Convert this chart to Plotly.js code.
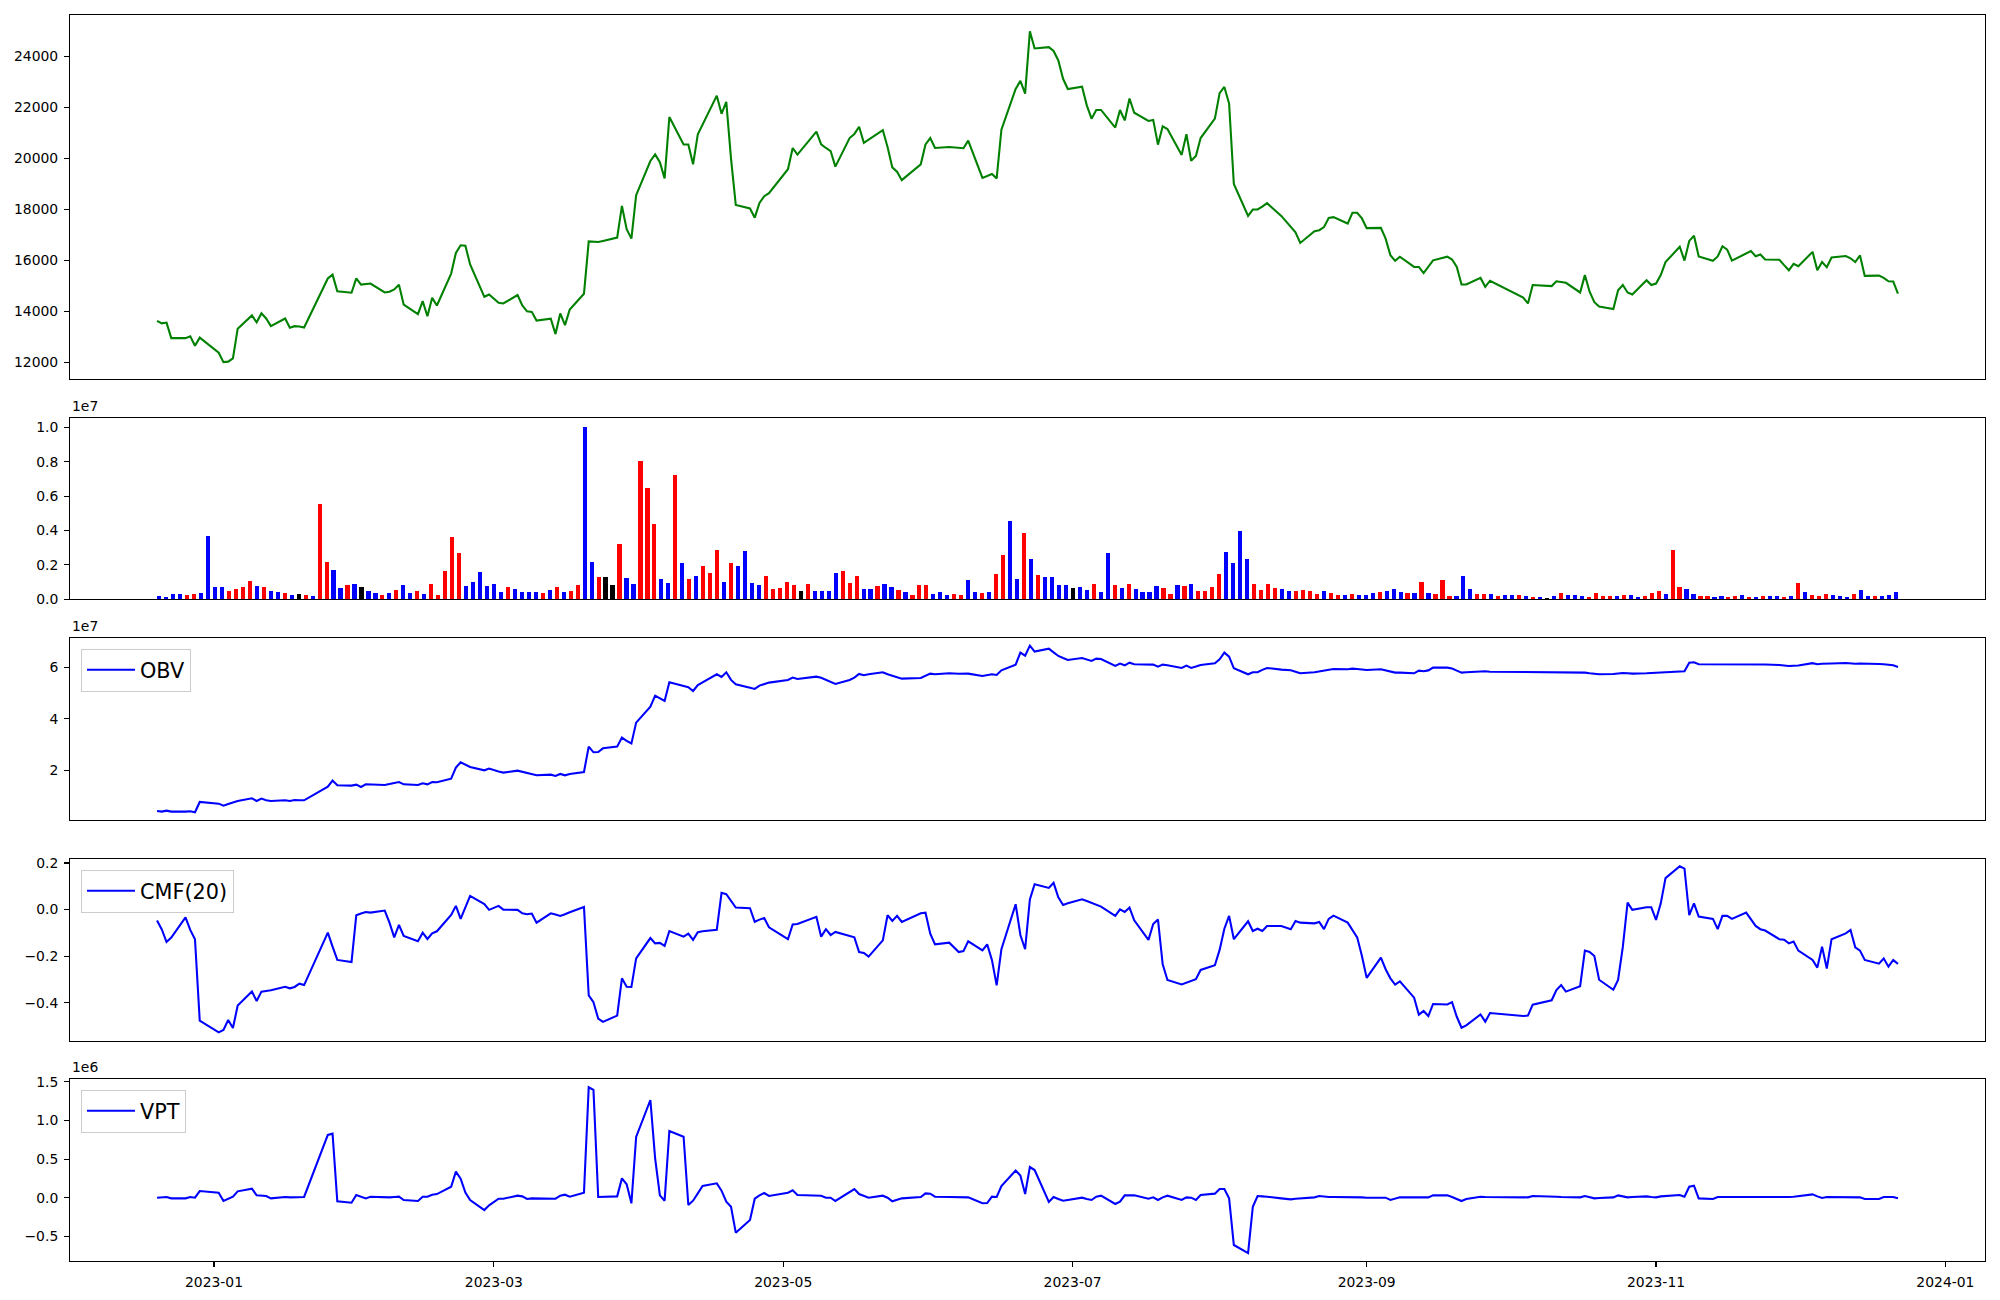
<!DOCTYPE html>
<html>
<head>
<meta charset="utf-8">
<script src="https://cdn.plot.ly/plotly-3.0.1.min.js"></script>
<style>
html,body{margin:0;padding:0;background:#ffffff;}
#chart{width:2000px;height:1300px;}
</style>
</head>
<body>
<div id="chart"></div>
<script>
// ---------------- DATA ----------------
const tradingDays = (
"2022-12-20 2022-12-21 2022-12-22 2022-12-23 2022-12-26 2022-12-27 2022-12-28 2022-12-29 " +
"2023-01-02 2023-01-03 2023-01-04 2023-01-05 2023-01-06 2023-01-09 2023-01-10 2023-01-11 2023-01-12 2023-01-13 " +
"2023-01-16 2023-01-17 2023-01-18 2023-01-19 2023-01-20 2023-01-25 2023-01-26 2023-01-27 2023-01-30 2023-01-31 " +
"2023-02-01 2023-02-02 2023-02-03 2023-02-06 2023-02-07 2023-02-08 2023-02-09 2023-02-10 2023-02-13 2023-02-14 " +
"2023-02-15 2023-02-16 2023-02-17 2023-02-20 2023-02-21 2023-02-22 2023-02-23 2023-02-24 2023-02-27 2023-02-28 " +
"2023-03-02 2023-03-03 2023-03-06 2023-03-07 2023-03-08 2023-03-09 2023-03-10 2023-03-13 2023-03-14 2023-03-15 " +
"2023-03-16 2023-03-17 2023-03-20 2023-03-21 2023-03-22 2023-03-23 2023-03-24 2023-03-27 2023-03-28 2023-03-29 " +
"2023-03-30 2023-03-31 2023-04-03 2023-04-04 2023-04-05 2023-04-06 2023-04-07 2023-04-10 2023-04-11 2023-04-12 " +
"2023-04-13 2023-04-14 2023-04-17 2023-04-18 2023-04-19 2023-04-20 2023-04-21 2023-04-24 2023-04-25 2023-04-26 " +
"2023-04-27 2023-04-28 2023-05-02 2023-05-03 2023-05-04 2023-05-08 2023-05-09 2023-05-10 2023-05-11 2023-05-12 " +
"2023-05-15 2023-05-16 2023-05-17 2023-05-18 2023-05-19 2023-05-22 2023-05-23 2023-05-24 2023-05-25 2023-05-26 " +
"2023-05-30 2023-05-31 2023-06-01 2023-06-02 2023-06-05 2023-06-07 2023-06-08 2023-06-09 2023-06-12 2023-06-13 " +
"2023-06-14 2023-06-15 2023-06-16 2023-06-19 2023-06-20 2023-06-21 2023-06-22 2023-06-23 2023-06-26 2023-06-27 " +
"2023-06-28 2023-06-29 2023-06-30 2023-07-03 2023-07-04 2023-07-05 2023-07-06 2023-07-07 2023-07-10 2023-07-11 " +
"2023-07-12 2023-07-13 2023-07-14 2023-07-17 2023-07-18 2023-07-19 2023-07-20 2023-07-21 2023-07-24 2023-07-25 " +
"2023-07-26 2023-07-27 2023-07-28 2023-07-31 2023-08-01 2023-08-02 2023-08-03 2023-08-04 2023-08-07 2023-08-08 " +
"2023-08-09 2023-08-10 2023-08-11 2023-08-14 2023-08-16 2023-08-17 2023-08-18 2023-08-21 2023-08-22 2023-08-23 " +
"2023-08-24 2023-08-25 2023-08-28 2023-08-29 2023-08-30 2023-08-31 2023-09-01 2023-09-04 2023-09-05 2023-09-06 " +
"2023-09-07 2023-09-08 2023-09-11 2023-09-12 2023-09-13 2023-09-14 2023-09-15 2023-09-18 2023-09-19 2023-09-20 " +
"2023-09-21 2023-09-22 2023-09-25 2023-09-26 2023-09-27 2023-10-04 2023-10-05 2023-10-06 2023-10-10 2023-10-11 " +
"2023-10-12 2023-10-13 2023-10-16 2023-10-17 2023-10-18 2023-10-19 2023-10-20 2023-10-23 2023-10-24 2023-10-25 " +
"2023-10-26 2023-10-27 2023-10-30 2023-10-31 2023-11-01 2023-11-02 2023-11-03 2023-11-06 2023-11-07 2023-11-08 " +
"2023-11-09 2023-11-10 2023-11-13 2023-11-14 2023-11-15 2023-11-16 2023-11-17 2023-11-20 2023-11-21 2023-11-22 " +
"2023-11-23 2023-11-24 2023-11-27 2023-11-28 2023-11-29 2023-11-30 2023-12-01 2023-12-04 2023-12-05 2023-12-06 " +
"2023-12-07 2023-12-08 2023-12-11 2023-12-12 2023-12-13 2023-12-14 2023-12-15 2023-12-18 2023-12-19 2023-12-20 " +
"2023-12-21 2023-12-22").split(" ");

const closePrice = [
13630,13530,13560,12950,12950,13020,12650,12970,12380,12010,
12030,12160,13320,13840,13570,13920,13720,13420,13720,13360,
13420,13410,13370,15290,15440,14790,14730,15290,15050,15070,
15090,14740,14770,14860,15040,14260,13890,14400,13810,14530,
14230,15480,16290,16590,16570,15840,14570,14660,14340,14310,
14640,14230,14000,13980,13640,13710,13110,13920,13460,14070,
14690,16740,16730,16720,16760,16890,18130,17220,16850,18550,
19890,20150,19840,19210,21610,20540,20540,19760,20940,21310,
22450,21740,22210,19980,18170,18030,17670,18250,18510,18630,
19570,20400,20140,21040,20540,20400,20280,19670,20790,20950,
21230,20600,20730,21100,20440,19640,19470,19140,19760,20540,
20790,20400,20440,20410,20390,20690,19230,19300,19380,19210,
21120,22710,23030,22530,24970,24300,24350,24200,23830,23110,
22710,22800,22070,21550,21890,21890,21200,21890,21480,22340,
21780,21460,21500,20530,21250,21140,20130,20940,19900,20090,
20790,21550,22550,22790,22140,18990,17740,17990,17990,18100,
18240,17740,17300,17100,16680,17140,17180,17300,17660,17690,
17440,17860,17860,17640,17260,17270,16850,16200,15980,16140,
15740,15740,15500,15740,16000,16140,16030,15740,15050,15050,
15310,14960,15200,14540,14310,15030,14990,15180,15160,15120,
14740,15420,14770,14360,14190,14090,14830,15030,14740,14660,
15220,15030,15090,15420,15930,16530,15990,16760,16960,16150,
15980,16150,16550,16420,15990,16280,16360,16160,16230,16030,
16020,15810,15610,15860,15770,16330,15610,15930,15730,16110,
16170,16080,15930,16190,15390,15400,15310,15180,15170,14690];

// volume in units of 1e7 (as on the axis)
const volume_x1e7 = [
0.019,0.014,0.031,0.031,0.025,0.031,0.037,0.368,0.072,0.072,
0.048,0.060,0.072,0.107,0.078,0.072,0.048,0.043,0.037,0.025,
0.031,0.025,0.019,0.554,0.217,0.171,0.066,0.083,0.089,0.072,
0.048,0.037,0.025,0.037,0.054,0.083,0.037,0.048,0.031,0.089,
0.025,0.165,0.362,0.269,0.078,0.101,0.159,0.078,0.089,0.043,
0.072,0.060,0.043,0.043,0.043,0.037,0.054,0.072,0.043,0.048,
0.083,1.002,0.217,0.130,0.130,0.083,0.322,0.124,0.089,0.804,
0.647,0.438,0.118,0.095,0.723,0.211,0.118,0.136,0.194,0.153,
0.287,0.101,0.211,0.194,0.281,0.095,0.083,0.136,0.060,0.066,
0.101,0.083,0.048,0.089,0.048,0.048,0.048,0.153,0.165,0.095,
0.136,0.060,0.060,0.078,0.089,0.072,0.054,0.043,0.025,0.083,
0.083,0.031,0.043,0.025,0.031,0.025,0.112,0.043,0.037,0.043,
0.147,0.258,0.455,0.118,0.386,0.234,0.141,0.130,0.130,0.083,
0.083,0.066,0.072,0.054,0.089,0.043,0.269,0.083,0.066,0.089,
0.060,0.043,0.043,0.078,0.066,0.031,0.083,0.078,0.089,0.048,
0.048,0.072,0.147,0.275,0.211,0.397,0.234,0.089,0.054,0.089,
0.066,0.060,0.048,0.048,0.054,0.048,0.031,0.048,0.037,0.025,
0.025,0.031,0.025,0.025,0.037,0.043,0.048,0.060,0.043,0.037,
0.037,0.101,0.037,0.031,0.112,0.019,0.019,0.136,0.060,0.031,
0.031,0.031,0.019,0.025,0.025,0.025,0.019,0.014,0.014,0.008,
0.019,0.037,0.025,0.025,0.019,0.014,0.037,0.019,0.019,0.019,
0.025,0.025,0.014,0.019,0.037,0.048,0.031,0.287,0.072,0.060,
0.031,0.019,0.019,0.014,0.019,0.014,0.019,0.025,0.014,0.014,
0.019,0.019,0.019,0.014,0.019,0.095,0.043,0.025,0.019,0.031,
0.025,0.019,0.014,0.031,0.054,0.019,0.019,0.019,0.025,0.043];

// bar direction: 1 = red, -1 = blue, 0 = black
const volumeDirection = [
-1,-1,-1,-1,1,1,-1,-1,-1,-1,
1,1,1,1,-1,1,-1,-1,1,-1,
0,1,-1,1,1,-1,-1,1,-1,0,
-1,-1,1,-1,1,-1,-1,1,-1,1,
1,1,1,1,-1,-1,-1,-1,-1,-1,
1,-1,-1,-1,-1,1,-1,1,-1,1,
1,-1,-1,1,0,0,1,-1,-1,1,
1,1,-1,-1,1,-1,1,-1,1,1,
1,-1,1,-1,-1,-1,-1,1,1,1,
1,1,0,1,-1,-1,-1,-1,1,1,
1,-1,-1,1,-1,-1,1,-1,1,1,
1,-1,-1,-1,1,1,-1,-1,1,-1,
1,1,-1,-1,1,-1,1,-1,-1,-1,
-1,0,-1,-1,1,-1,-1,1,-1,1,
-1,-1,-1,-1,1,1,-1,1,-1,1,
1,1,1,-1,-1,-1,-1,1,1,1,
1,-1,-1,1,1,1,1,-1,1,1,
-1,1,-1,-1,-1,1,-1,-1,-1,1,
-1,1,-1,1,1,1,-1,-1,-1,1,
1,-1,1,-1,-1,1,-1,1,-1,0,
-1,1,-1,-1,-1,1,1,1,1,-1,
1,-1,-1,1,1,1,-1,1,1,-1,
-1,1,1,-1,-1,1,1,-1,1,-1,
1,-1,-1,1,-1,1,-1,1,1,1,
-1,-1,-1,1,-1,-1,1,-1,-1,-1];

// OBV in units of 1e7
const obv_x1e7 = [
0.421,0.395,0.434,0.395,0.395,0.408,0.369,0.770,0.705,0.628,
0.690,0.760,0.809,0.913,0.809,0.900,0.835,0.809,0.835,0.809,
0.848,0.835,0.835,1.366,1.599,1.417,1.405,1.443,1.353,1.456,
1.456,1.430,1.470,1.520,1.547,1.456,1.430,1.495,1.456,1.547,
1.534,1.676,2.104,2.311,2.220,2.129,2.000,2.065,1.950,1.909,
1.987,1.940,1.880,1.830,1.806,1.832,1.780,1.858,1.806,1.858,
1.935,2.919,2.699,2.712,2.854,2.919,3.269,3.145,3.040,3.851,
4.472,4.899,4.800,4.693,5.417,5.249,5.223,5.081,5.310,5.417,
5.728,5.625,5.806,5.510,5.340,5.210,5.159,5.288,5.340,5.405,
5.508,5.599,5.547,5.638,5.590,5.520,5.443,5.353,5.510,5.600,
5.741,5.689,5.730,5.806,5.730,5.676,5.610,5.560,5.586,5.680,
5.754,5.728,5.767,5.750,5.750,5.754,5.663,5.700,5.728,5.702,
5.883,6.104,6.570,6.453,6.841,6.609,6.725,6.580,6.440,6.360,
6.285,6.362,6.310,6.246,6.337,6.324,6.052,6.142,6.078,6.180,
6.117,6.104,6.104,6.026,6.104,6.080,5.974,6.065,5.974,6.030,
6.091,6.155,6.310,6.570,6.414,5.961,5.728,5.806,5.806,5.900,
5.974,5.910,5.883,5.830,5.767,5.806,5.840,5.880,5.920,5.935,
5.922,5.948,5.935,5.910,5.896,5.922,5.880,5.820,5.793,5.793,
5.767,5.870,5.845,5.880,5.987,5.987,5.950,5.870,5.793,5.810,
5.845,5.845,5.830,5.819,5.820,5.820,5.793,5.790,5.790,5.780,
5.790,5.793,5.767,5.754,5.728,5.741,5.767,5.780,5.767,5.754,
5.767,5.780,5.793,5.806,5.820,5.845,5.845,6.181,6.194,6.117,
6.120,6.120,6.130,6.130,6.130,6.130,6.130,6.130,6.120,6.110,
6.090,6.070,6.050,6.060,6.070,6.160,6.120,6.140,6.140,6.150,
6.170,6.150,6.140,6.150,6.150,6.130,6.120,6.100,6.080,6.010];

const cmf20 = [
-0.047,-0.085,-0.139,-0.120,-0.033,-0.087,-0.127,-0.477,-0.527,-0.517,
-0.474,-0.508,-0.412,-0.352,-0.392,-0.352,-0.349,-0.346,-0.331,-0.338,
-0.332,-0.318,-0.324,-0.099,-0.159,-0.216,-0.225,-0.024,-0.017,-0.010,
-0.013,-0.004,-0.056,-0.119,-0.066,-0.113,-0.136,-0.099,-0.126,-0.102,
-0.093,-0.023,0.016,-0.040,0.010,0.059,0.024,-0.001,0.016,0.000,
-0.001,-0.016,-0.020,-0.017,-0.056,-0.016,-0.021,-0.027,-0.020,-0.011,
0.011,-0.368,-0.397,-0.468,-0.482,-0.455,-0.295,-0.331,-0.332,-0.209,
-0.122,-0.145,-0.143,-0.156,-0.092,-0.116,-0.103,-0.130,-0.097,-0.093,
-0.087,0.072,0.066,0.037,0.009,0.006,-0.052,-0.043,-0.036,-0.076,
-0.127,-0.064,-0.062,-0.031,-0.116,-0.084,-0.109,-0.096,-0.113,-0.119,
-0.182,-0.186,-0.202,-0.132,-0.024,-0.049,-0.027,-0.053,-0.016,-0.013,
-0.103,-0.149,-0.142,-0.182,-0.178,-0.136,-0.175,-0.149,-0.216,-0.325,
-0.170,0.023,-0.109,-0.170,0.044,0.109,0.093,0.115,0.053,0.020,
0.027,0.044,0.037,0.029,0.020,0.013,-0.027,0.001,-0.010,0.009,
-0.046,-0.130,-0.062,-0.042,-0.235,-0.302,-0.321,-0.314,-0.306,-0.299,
-0.259,-0.239,-0.173,-0.082,-0.027,-0.127,-0.050,-0.092,-0.082,-0.092,
-0.070,-0.070,-0.084,-0.049,-0.056,-0.059,-0.053,-0.084,-0.040,-0.026,
-0.056,-0.087,-0.119,-0.199,-0.293,-0.206,-0.256,-0.295,-0.322,-0.308,
-0.378,-0.451,-0.435,-0.457,-0.405,-0.407,-0.397,-0.460,-0.507,-0.497,
-0.450,-0.481,-0.444,-0.457,-0.455,-0.408,-0.389,-0.345,-0.324,-0.352,
-0.329,-0.176,-0.182,-0.199,-0.301,-0.344,-0.302,-0.160,0.030,-0.001,
0.010,0.010,-0.044,0.027,0.135,0.186,0.176,-0.024,0.027,-0.030,
-0.040,-0.084,-0.027,-0.027,-0.040,-0.013,-0.042,-0.070,-0.084,-0.090,
-0.127,-0.129,-0.145,-0.137,-0.176,-0.216,-0.249,-0.159,-0.253,-0.127,
-0.102,-0.087,-0.162,-0.176,-0.216,-0.232,-0.210,-0.245,-0.216,-0.233];

// VPT in units of 1e6
const vpt_x1e6 = [
0.000,0.000,0.009,-0.009,-0.009,0.009,0.000,0.086,0.065,-0.043,
-0.013,0.013,0.082,0.117,0.030,0.022,0.022,-0.009,0.009,0.004,
0.004,0.009,0.009,0.812,0.829,-0.047,-0.065,0.035,0.013,-0.009,
0.013,0.004,0.004,0.009,0.013,-0.030,-0.043,0.013,0.013,0.039,
0.047,0.142,0.337,0.246,0.065,-0.030,-0.160,-0.099,-0.013,-0.013,
0.026,0.017,-0.017,-0.009,-0.009,-0.009,-0.013,0.026,0.039,0.013,
0.065,1.429,1.395,0.009,0.013,0.017,0.250,0.173,-0.073,0.786,
1.265,0.510,0.030,-0.039,0.864,0.790,-0.095,-0.039,0.056,0.151,
0.186,0.091,-0.052,-0.117,-0.453,-0.289,-0.013,0.030,0.060,0.022,
0.065,0.095,0.035,0.035,0.026,0.000,0.000,-0.043,0.073,0.112,
0.047,0.022,0.000,0.026,0.000,-0.047,-0.030,-0.009,0.009,0.056,
0.052,0.013,0.009,0.009,0.009,0.004,-0.073,-0.069,0.013,0.009,
0.151,0.352,0.288,0.047,0.397,0.358,-0.056,0.009,-0.017,-0.039,
-0.030,0.000,-0.017,-0.030,0.013,0.026,-0.082,-0.052,0.030,0.030,
0.030,-0.013,0.004,-0.030,0.004,0.026,-0.030,0.004,0.000,-0.030,
0.035,0.052,0.112,0.112,-0.009,-0.613,-0.717,-0.117,0.022,0.017,
0.013,-0.009,-0.022,-0.013,-0.009,0.004,0.022,0.013,0.009,0.009,
0.009,0.013,0.009,0.004,0.000,0.000,0.000,-0.030,-0.013,0.004,
0.004,0.004,0.004,0.004,0.030,0.030,0.009,-0.017,-0.043,-0.017,
0.013,0.009,0.009,0.004,0.004,0.022,0.022,0.013,0.009,0.009,
0.004,0.022,0.004,-0.009,-0.004,0.004,0.030,0.017,0.004,0.009,
0.017,0.009,0.004,0.017,0.022,0.035,0.013,0.142,0.155,-0.009,
-0.017,0.009,0.009,0.009,0.000,0.009,0.009,0.009,0.009,0.009,
0.009,0.009,0.009,0.013,0.022,0.043,0.017,-0.004,0.009,0.009,
0.009,0.009,0.009,0.004,-0.017,-0.017,0.009,0.009,0.009,-0.009];

// tick values / labels
const priceTicks = [12000,14000,16000,18000,20000,22000,24000];
const volumeTicks = [0,0.2,0.4,0.6,0.8,1.0];
const volumeTickText = ["0.0","0.2","0.4","0.6","0.8","1.0"];
const obvTicks = [2,4,6];
const obvTickText = ["2","4","6"];
const cmfTicks = [-0.4,-0.2,0,0.2];
const cmfTickText = ["\u22120.4","\u22120.2","0.0","0.2"];
const vptTicks = [-0.5,0,0.5,1.0,1.5];
const vptTickText = ["\u22120.5","0.0","0.5","1.0","1.5"];
const dateTicks = ["2023-01-01","2023-03-01","2023-05-01","2023-07-01","2023-09-01","2023-11-01","2024-01-01"];
const dateTickText = ["2023-01","2023-03","2023-05","2023-07","2023-09","2023-11","2024-01"];

// ---------------- CHART ----------------
const FONT = "DejaVu Sans, Liberation Sans, sans-serif";
const barColors = volumeDirection.map(d => d > 0 ? "#ff0000" : (d < 0 ? "#0000ff" : "#000000"));
const barIndex = tradingDays.map((d, i) => i);

const baseAxis = {
  showline: true, mirror: true, linecolor: "#000000", linewidth: 1.1,
  showgrid: false, zeroline: false,
  ticks: "outside", ticklen: 4.9, tickwidth: 1.1, tickcolor: "#000000",
  tickfont: {family: FONT, size: 13.9, color: "#000000"},
  ticklabelstandoff: 3,
  fixedrange: true
};
const xDomain = [0.035, 0.9925];
const dateRange = ["2022-12-01 15:36", "2024-01-09 08:24"];
function ax(extra) { return Object.assign({}, baseAxis, extra); }
function hiddenX(extra) { return Object.assign({}, baseAxis, {domain: xDomain, ticks: "", showticklabels: false}, extra); }

const traces = [
  {type: "scatter", mode: "lines", x: tradingDays, y: closePrice,
   line: {color: "#008000", width: 2.08}, xaxis: "x", yaxis: "y", showlegend: false, hoverinfo: "skip"},
  {type: "bar", x: barIndex, y: volume_x1e7, width: 0.6,
   marker: {color: barColors, line: {width: 0}}, xaxis: "x2", yaxis: "y2", showlegend: false, hoverinfo: "skip"},
  {type: "scatter", mode: "lines", name: "OBV", x: tradingDays, y: obv_x1e7,
   line: {color: "#0000ff", width: 2.08}, xaxis: "x3", yaxis: "y3", legend: "legend", showlegend: true, hoverinfo: "skip"},
  {type: "scatter", mode: "lines", name: "CMF(20)", x: tradingDays, y: cmf20,
   line: {color: "#0000ff", width: 2.08}, xaxis: "x4", yaxis: "y4", legend: "legend2", showlegend: true, hoverinfo: "skip"},
  {type: "scatter", mode: "lines", name: "VPT", x: tradingDays, y: vpt_x1e6,
   line: {color: "#0000ff", width: 2.08}, xaxis: "x5", yaxis: "y5", legend: "legend3", showlegend: true, hoverinfo: "skip"}
];

const legendStyle = {
  xanchor: "left", yanchor: "top", x: 0.0405,
  bgcolor: "rgba(255,255,255,0.8)", bordercolor: "#cccccc", borderwidth: 1,
  itemwidth: 48,
  font: {family: FONT, size: 20.8, color: "#000000"}
};

const offsetFont = {family: FONT, size: 13.9, color: "#000000"};

const layout = {
  width: 2000, height: 1300,
  margin: {l: 0, r: 0, t: 0, b: 0, pad: 0},
  paper_bgcolor: "#ffffff", plot_bgcolor: "#ffffff",
  font: {family: FONT, size: 13.9, color: "#000000"},
  bargap: 0,
  xaxis: hiddenX({type: "date", range: dateRange, anchor: "y"}),
  yaxis: ax({domain: [0.708462, 0.988462], range: [11350, 25610], tickvals: priceTicks,
             ticktext: priceTicks.map(String), anchor: "x"}),
  xaxis2: hiddenX({type: "linear", range: [-12.795, 261.795], anchor: "y2"}),
  yaxis2: ax({domain: [0.539, 0.678231], range: [0, 1.052], tickvals: volumeTicks,
              ticktext: volumeTickText, anchor: "x2"}),
  xaxis3: hiddenX({type: "date", range: dateRange, anchor: "y3"}),
  yaxis3: ax({domain: [0.369231, 0.509], range: [0.07, 7.126], tickvals: obvTicks,
              ticktext: obvTickText, anchor: "x3"}),
  xaxis4: hiddenX({type: "date", range: dateRange, anchor: "y4"}),
  yaxis4: ax({domain: [0.199231, 0.339], range: [-0.564, 0.216], tickvals: cmfTicks,
              ticktext: cmfTickText, anchor: "x4"}),
  xaxis5: ax({domain: xDomain, type: "date", range: dateRange, anchor: "y5",
              tickvals: dateTicks, ticktext: dateTickText}),
  yaxis5: ax({domain: [0.03, 0.169769], range: [-0.820, 1.533], tickvals: vptTicks,
              ticktext: vptTickText, anchor: "x5"}),
  legend: Object.assign({}, legendStyle, {y: 0.501}),
  legend2: Object.assign({}, legendStyle, {y: 0.331}),
  legend3: Object.assign({}, legendStyle, {y: 0.1618}),
  annotations: [
    {xref: "paper", yref: "paper", x: 0.035, y: 0.6800, xanchor: "left", yanchor: "bottom",
     text: "1e7", showarrow: false, font: offsetFont},
    {xref: "paper", yref: "paper", x: 0.035, y: 0.5108, xanchor: "left", yanchor: "bottom",
     text: "1e7", showarrow: false, font: offsetFont},
    {xref: "paper", yref: "paper", x: 0.035, y: 0.1715, xanchor: "left", yanchor: "bottom",
     text: "1e6", showarrow: false, font: offsetFont}
  ]
};

Plotly.newPlot("chart", traces, layout, {displayModeBar: false, staticPlot: true});
</script>
</body>
</html>
